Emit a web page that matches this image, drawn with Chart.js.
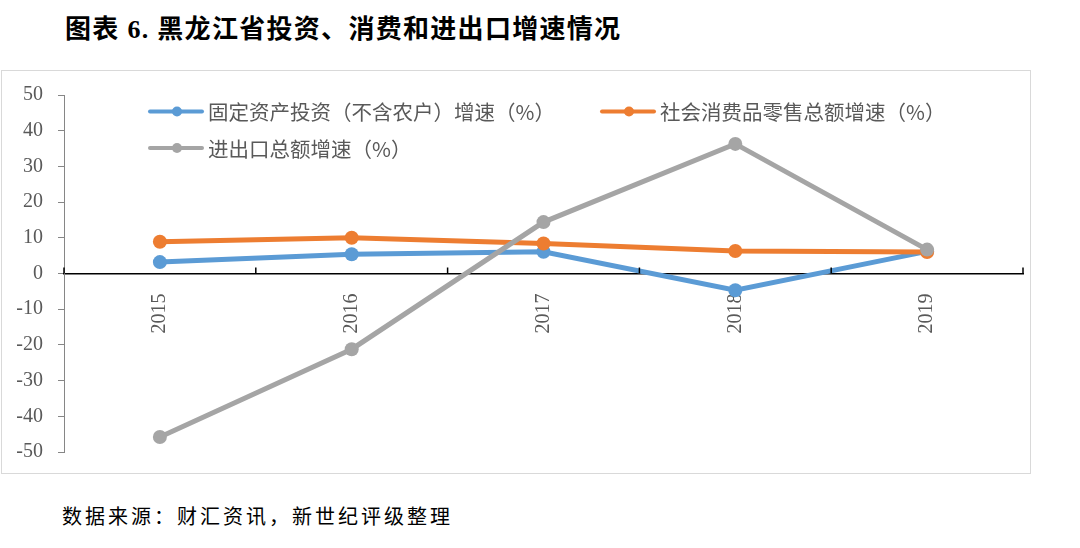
<!DOCTYPE html>
<html>
<head>
<meta charset="utf-8">
<script src="https://cdn.jsdelivr.net/npm/chart.js@4"></script>
<style>
  html, body { margin:0; padding:0; background:#fff; width:1080px; height:548px; overflow:hidden; }
  #title { position:absolute; left:65px; top:12px; font: bold 26px "Liberation Serif", "Noto Sans CJK SC", serif; color:#000; white-space:nowrap; letter-spacing:1.3px; line-height:36px; }
  #frame { position:absolute; left:1px; top:70px; width:1028px; height:402px; border:1px solid #d9d9d9; }
  #wrap { position:absolute; left:1px; top:70px; width:1029px; height:403px; }
  #source { position:absolute; left:62px; top:503px; font: 20px "Noto Sans CJK SC", sans-serif; color:#000; letter-spacing:3px; white-space:nowrap; line-height:26px; }
</style>
</head>
<body>
<div id="title">图表 6. 黑龙江省投资、消费和进出口增速情况</div>
<div id="frame"></div>
<div id="wrap"><canvas id="c" width="1029" height="403"></canvas></div>
<div id="source">数据来源：财汇资讯，新世纪评级整理</div>
<script>
const categories = ["2015", "2016", "2017", "2018", "2019"];
const investGrowth = [3.2, 5.4, 6.1, -4.7, 6.2];
const retailGrowth = [8.9, 10.0, 8.4, 6.3, 6.0];
const tradeGrowth = [-45.8, -21.2, 14.4, 36.3, 6.7];
const seriesNames = ["固定资产投资（不含农户）增速（%）", "社会消费品零售总额增速（%）", "进出口总额增速（%）"];
const yTicks = [-50, -40, -30, -20, -10, 0, 10, 20, 30, 40, 50];

const colors = ["#5B9BD5", "#ED7D31", "#A5A5A5"];

const legendPos = [
  {x: 147, y: 41.5},
  {x: 599, y: 41.5},
  {x: 147, y: 78}
];

const customLegend = {
  id: 'customLegend',
  afterDraw(chart) {
    const ctx = chart.ctx;
    ctx.save();
    chart.data.datasets.forEach((ds, i) => {
      const p = legendPos[i];
      ctx.strokeStyle = ds.borderColor;
      ctx.lineWidth = 4;
      ctx.lineCap = 'round';
      ctx.beginPath();
      ctx.moveTo(p.x + 2, p.y);
      ctx.lineTo(p.x + 54, p.y);
      ctx.stroke();
      ctx.fillStyle = ds.borderColor;
      ctx.beginPath();
      ctx.arc(p.x + 29, p.y, 5, 0, Math.PI * 2);
      ctx.fill();
      ctx.fillStyle = '#595959';
      ctx.font = '20.5px "Noto Sans CJK SC", sans-serif';
      ctx.textBaseline = 'middle';
      ctx.textAlign = 'left';
      ctx.fillText(ds.label, p.x + 60, p.y + 1);
    });
    ctx.restore();
  }
};

const xTicksPlugin = {
  id: 'xTicksPlugin',
  afterDatasetsDraw(chart) {
    const xs = chart.scales.x, ys = chart.scales.y;
    const ctx = chart.ctx;
    const y0 = ys.getPixelForValue(0);
    const step = xs.getPixelForValue(1) - xs.getPixelForValue(0);
    ctx.save();
    ctx.strokeStyle = '#000';
    ctx.lineWidth = 1.5;
    for (let i = 0; i <= categories.length; i++) {
      const x = xs.getPixelForValue(0) - step / 2 + i * step;
      ctx.beginPath();
      ctx.moveTo(x, y0);
      ctx.lineTo(x, y0 - 6);
      ctx.stroke();
    }
    ctx.restore();
  }
};

function ds(label, data, color, order) {
  return {
    label, data, borderColor: color, backgroundColor: color,
    borderWidth: 5, pointRadius: 7, pointHoverRadius: 7,
    pointBackgroundColor: color, pointBorderColor: color, pointBorderWidth: 0,
    tension: 0, order
  };
}

function zeroPad(scale) {
  scale.paddingTop = 0; scale.paddingBottom = 0;
  scale.paddingLeft = 0; scale.paddingRight = 0;
}

new Chart(document.getElementById('c'), {
  type: 'line',
  data: {
    labels: categories,
    datasets: [
      ds(seriesNames[0], investGrowth, colors[0], 3),
      ds(seriesNames[1], retailGrowth, colors[1], 2),
      ds(seriesNames[2], tradeGrowth, colors[2], 1)
    ]
  },
  options: {
    responsive: false,
    animation: false,
    devicePixelRatio: 1,
    layout: { padding: { top: 25, bottom: 21, left: 0, right: 4 } },
    plugins: { legend: { display: false }, tooltip: { enabled: false } },
    scales: {
      x: {
        type: 'category',
        offset: true,
        position: { y: 0 },
        grid: { display: false },
        border: { display: true, color: '#000', width: 1.5 },
        afterFit(scale) { zeroPad(scale); },
        ticks: {
          minRotation: 90, maxRotation: 90, padding: 12,
          color: '#595959',
          font: { family: '"Liberation Serif", serif', size: 20 }
        }
      },
      y: {
        min: -50, max: 50,
        afterBuildTicks(scale) { scale.ticks = yTicks.map(v => ({ value: v })); },
        afterFit(scale) { scale.width = 63; zeroPad(scale); },
        grid: { display: true, drawOnChartArea: false, drawTicks: true, tickLength: 6, color: '#868686' },
        border: { display: true, color: '#868686', width: 1 },
        ticks: {
          padding: 15,
          color: '#595959',
          font: { family: '"Liberation Serif", serif', size: 20 }
        }
      }
    }
  },
  plugins: [customLegend, xTicksPlugin]
});
</script>
</body>
</html>
